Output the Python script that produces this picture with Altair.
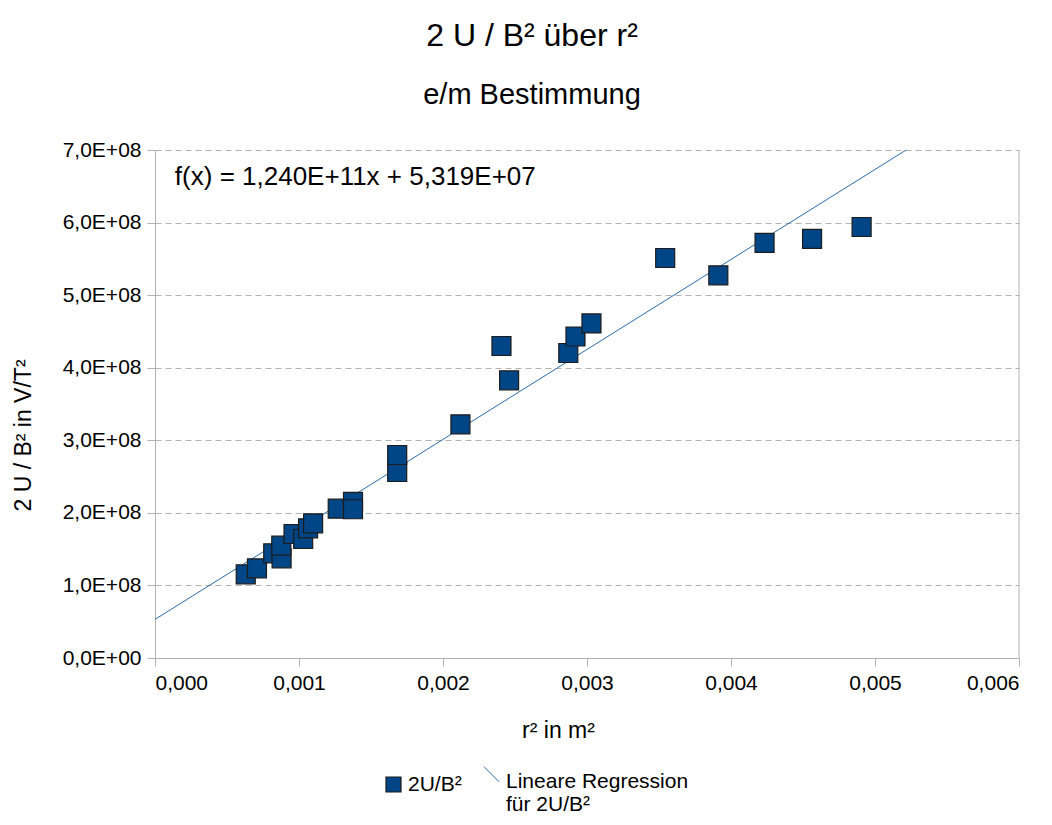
import altair as alt
import pandas as pd

# Data
r2_values = [0.00063, 0.000708, 0.000821, 0.000879, 0.000877, 0.000962, 0.001029,
             0.001063, 0.001098, 0.001269, 0.001375, 0.001375, 0.001682, 0.001682,
             0.002121, 0.002406, 0.002459, 0.00287, 0.00292, 0.003031, 0.003543,
             0.003912, 0.004233, 0.004563, 0.004907]
u_b2_values = [1.153e8, 1.236e8, 1.443e8, 1.374e8, 1.548e8, 1.709e8, 1.64e8,
               1.787e8, 1.856e8, 2.058e8, 2.15e8, 2.05e8, 2.563e8, 2.797e8,
               3.22e8, 4.299e8, 3.826e8, 4.203e8, 4.43e8, 4.61e8, 5.512e8,
               5.273e8, 5.719e8, 5.774e8, 5.939e8]

fit_slope = 1.240e11
fit_intercept = 5.319e7
fit_x = [0.0, 0.005225]

series_points = "2U/B²"
series_fit = "Lineare Regression|für 2U/B²"
equation_text = "f(x) = 1,240E+11x + 5,319E+07"

x_ticks = [0, 0.001, 0.002, 0.003, 0.004, 0.005, 0.006]
y_ticks = [0, 1e8, 2e8, 3e8, 4e8, 5e8, 6e8, 7e8]

pts = pd.DataFrame({"r2": r2_values, "u": u_b2_values, "pt_series": series_points})
fit = pd.DataFrame({"r2": fit_x,
                    "u": [fit_slope * v + fit_intercept for v in fit_x],
                    "fit_series": series_fit})

FONT = "Liberation Sans"
GREY = "#b3b3b3"
PT_FILL = "#004586"
PT_EDGE = "#1c1c1c"
LINE_COL = "#2a6aa8"

x_enc = alt.X("r2:Q",
              scale=alt.Scale(domain=[0, 0.006], nice=False, zero=True),
              axis=alt.Axis(values=x_ticks, title="r² in m²", grid=False,
                            titleX=403, titleY=72, titleBaseline="middle",
                            titleAnchor="start", titleAlign="center",
                            labelExpr="replace(format(datum.value, '.3f'), '.', ',')"))
y_enc = alt.Y("u:Q",
              scale=alt.Scale(domain=[0, 7e8], nice=False),
              axis=alt.Axis(values=y_ticks, title="2 U / B² in V/T²", grid=True,
                            gridDash=[6, 4], gridColor=GREY,
                            titleX=-132, titleY=285, titleBaseline="middle",
                            titleAlign="center", titleAngle=270,
                            labelExpr="datum.value == 0 ? '0,0E+00' : replace(format(datum.value / pow(10, floor(log(datum.value)/LN10 + 1e-9)), '.1f'), '.', ',') + 'E+' + (floor(log(datum.value)/LN10 + 1e-9) < 10 ? '0' : '') + floor(log(datum.value)/LN10 + 1e-9)"))

leg_points = alt.Legend(title=None, orient="none", legendX=228, legendY=624,
                        symbolType="square", symbolSize=225,
                        symbolStrokeColor=PT_EDGE, symbolStrokeWidth=1.2,
                        labelBaseline="middle")
leg_fit = alt.Legend(title=None, orient="none", legendX=326, legendY=621,
                     symbolType="M-1,-1.98L1,0.02", symbolSize=225,
                     symbolStrokeWidth=1, labelBaseline="middle",
                     labelExpr="split(datum.label, '|')")

fit_line = alt.Chart(fit).mark_line(strokeWidth=1, clip=True).encode(
    x=x_enc, y=y_enc,
    stroke=alt.Stroke("fit_series:N",
                      scale=alt.Scale(domain=[series_fit], range=[LINE_COL]),
                      legend=leg_fit),
)

points = alt.Chart(pts).mark_point(filled=True, shape="square", size=361,
                                   stroke=PT_EDGE, strokeWidth=1.2, opacity=1).encode(
    x="r2:Q", y="u:Q",
    fill=alt.Fill("pt_series:N",
                  scale=alt.Scale(domain=[series_points], range=[PT_FILL]),
                  legend=leg_points),
)

right_frame = alt.Chart(pd.DataFrame({"r2": [0.006]})).mark_rule(color=GREY, strokeWidth=1).encode(
    x="r2:Q"
)

equation = alt.Chart(pd.DataFrame({"r2": [0.000138], "u": [6.52e8], "t": [equation_text]})).mark_text(
    align="left", baseline="alphabetic", font=FONT, fontSize=26, color="#000000"
).encode(x="r2:Q", y="u:Q", text="t:N")

chart = alt.layer(right_frame, fit_line, points, equation).properties(
    width=864, height=508,
    autosize=alt.AutoSizeParams(type="none"),
    padding={"left": 147, "top": 142, "right": 24, "bottom": 159},
    title=alt.TitleParams(text="2 U / B² über r²", subtitle="e/m Bestimmung",
                          anchor="middle", dx=-55, offset=28,
                          font=FONT, fontSize=32, fontWeight="normal", color="#000000",
                          subtitleFont=FONT, subtitleFontSize=29, subtitleColor="#000000",
                          subtitlePadding=28),
).configure_view(stroke=None).configure_axis(
    labelFont=FONT, titleFont=FONT, labelFontSize=21, titleFontSize=23,
    labelColor="#000000", titleColor="#000000", titleFontWeight="normal",
    domainColor=GREY, tickColor=GREY, tickSize=8, labelPadding=6,
).configure_legend(
    labelFont=FONT, labelFontSize=21, labelColor="#000000", labelLimit=400,
)

chart.save("out.html", embed_options={"renderer": "svg", "actions": False})
